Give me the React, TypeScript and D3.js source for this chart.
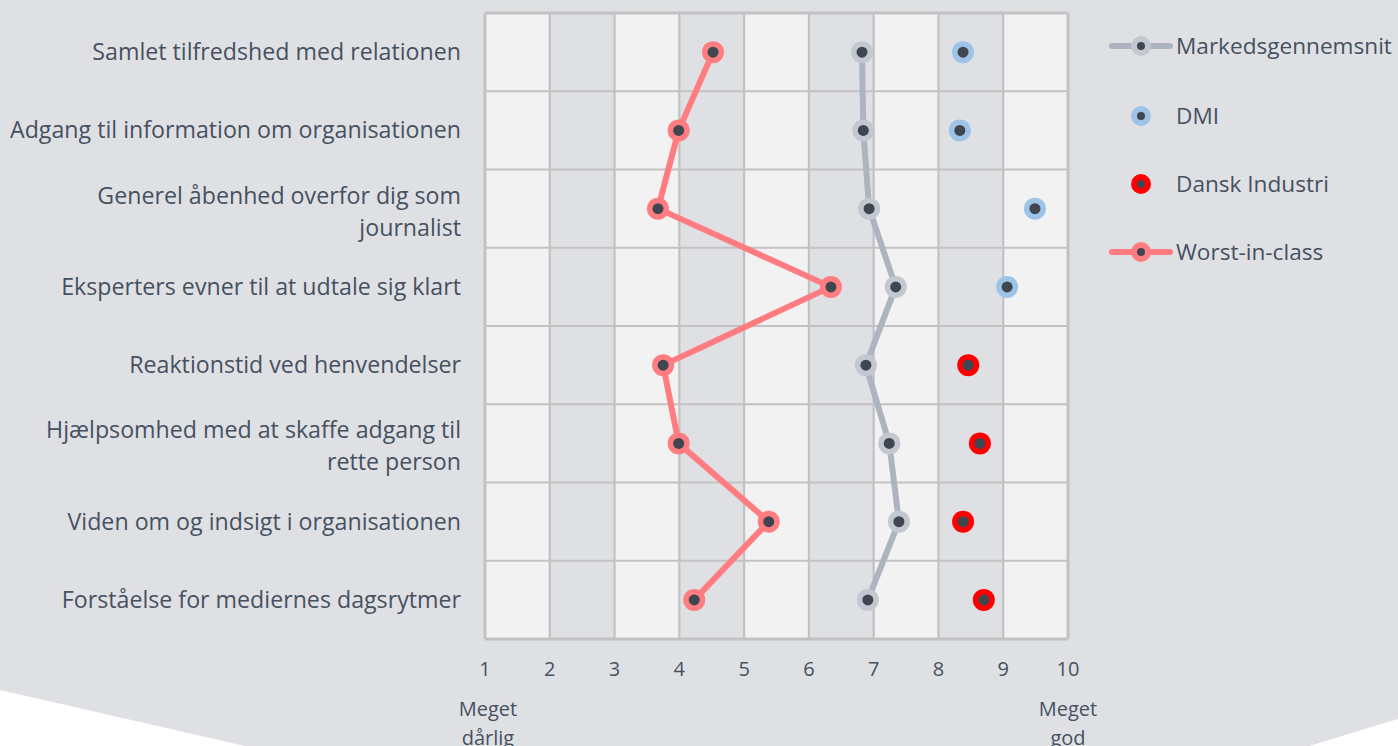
import React from "react";
import * as d3 from "d3";

const categories: string[][] = [
  ["Samlet tilfredshed med relationen"],
  ["Adgang til information om organisationen"],
  ["Generel åbenhed overfor dig som", "journalist"],
  ["Eksperters evner til at udtale sig klart"],
  ["Reaktionstid ved henvendelser"],
  ["Hjælpsomhed med at skaffe adgang til", "rette person"],
  ["Viden om og indsigt i organisationen"],
  ["Forståelse for mediernes dagsrytmer"],
];

const marked: number[] = [6.82, 6.84, 6.93, 7.34, 6.88, 7.24, 7.39, 6.91];
const worst: number[] = [4.52, 3.99, 3.67, 6.34, 3.75, 3.99, 5.38, 4.23];
const dmi: (number | null)[] = [8.38, 8.33, 9.49, 9.06, null, null, null, null];
const danskIndustri: (number | null)[] = [null, null, null, null, 8.46, 8.64, 8.38, 8.70];

const ticks: number[] = [1, 2, 3, 4, 5, 6, 7, 8, 9, 10];
const legendNames: string[] = ["Markedsgennemsnit", "DMI", "Dansk Industri", "Worst-in-class"];

const W = 1398;
const H = 746;
const BG = "#dfe0e4";
const LIGHT = "#f2f2f2";
const GRID = "#c2c2c2";
const TEXT = "#465160";
const DOT = "#3f4650";
const FONT = "'Open Sans', 'Noto Sans', sans-serif";

const C_MARK_LINE = "#adb4bf";
const C_MARK_RING = "#c3c8d0";
const C_DMI = "#9dc3e6";
const C_DI = "#ff0000";
const C_WORST = "#ff7c80";

export default function App() {
  const x = d3.scaleLinear().domain([1, 10]).range([485, 1068]);
  const y = d3
    .scaleBand<number>()
    .domain(d3.range(categories.length))
    .range([13, 639])
    .paddingInner(0)
    .paddingOuter(0);
  const cy = (i: number) => (y(i) as number) + y.bandwidth() / 2;

  const line = d3
    .line<number>()
    .x((d) => x(d))
    .y((_, i) => cy(i));

  const marker = (key: string, px: number, py: number, ring: string) => (
    <g key={key}>
      <circle cx={px} cy={py} r={11} fill={ring} />
      <circle cx={px} cy={py} r={5.5} fill={DOT} />
    </g>
  );

  const bgPath = `M0,0 L${W},0 L${W},719 L1309,${H} L245,${H} L0,690 Z`;

  const legendY = [46, 116, 184, 252];

  return (
    <svg
      width={W}
      height={H}
      style={{ position: "absolute", left: 0, top: 0, display: "block" }}
    >
      <rect x={0} y={0} width={W} height={H} fill="#ffffff" />
      <path d={bgPath} fill={BG} />

      {ticks.slice(0, -1).map((t, i) => (
        <rect
          key={"col" + t}
          x={x(t)}
          y={13}
          width={x(t + 1) - x(t)}
          height={626}
          fill={i % 2 === 0 ? LIGHT : BG}
        />
      ))}

      {ticks.map((t) => (
        <line
          key={"vg" + t}
          x1={x(t)}
          x2={x(t)}
          y1={13}
          y2={639}
          stroke={GRID}
          strokeWidth={t === 1 || t === 10 ? 3 : 2.2}
        />
      ))}
      {d3.range(categories.length + 1).map((i) => {
        const yy = i === categories.length ? 639 : (y(i) as number);
        return (
          <line
            key={"hg" + i}
            x1={485}
            x2={1068}
            y1={yy}
            y2={yy}
            stroke={GRID}
            strokeWidth={i === 0 || i === categories.length ? 3 : 2.2}
          />
        );
      })}

      {ticks.map((t) => (
        <text
          key={"tl" + t}
          x={x(t)}
          y={676}
          textAnchor="middle"
          fontFamily={FONT}
          fontSize={20}
          fill={TEXT}
        >
          {t}
        </text>
      ))}
      <text x={x(1) + 3} y={716} textAnchor="middle" fontFamily={FONT} fontSize={20} fill={TEXT}>
        Meget
      </text>
      <text x={x(1) + 3} y={745} textAnchor="middle" fontFamily={FONT} fontSize={20} fill={TEXT}>
        dårlig
      </text>
      <text x={x(10)} y={716} textAnchor="middle" fontFamily={FONT} fontSize={20} fill={TEXT}>
        Meget
      </text>
      <text x={x(10)} y={745} textAnchor="middle" fontFamily={FONT} fontSize={20} fill={TEXT}>
        god
      </text>

      {categories.map((lines, i) => {
        const lh = 32;
        const start = cy(i) + 8 - ((lines.length - 1) * lh) / 2 + (lines.length > 1 ? 3 : 0);
        return (
          <text key={"cat" + i} textAnchor="end" fontFamily={FONT} fontSize={23.2} fill={TEXT}>
            {lines.map((l, j) => (
              <tspan key={j} x={461} y={start + j * lh}>
                {l}
              </tspan>
            ))}
          </text>
        );
      })}

      <path
        d={line(marked) || ""}
        fill="none"
        stroke={C_MARK_LINE}
        strokeWidth={6}
        strokeLinejoin="round"
      />
      <path
        d={line(worst) || ""}
        fill="none"
        stroke={C_WORST}
        strokeWidth={6}
        strokeLinejoin="round"
      />

      {marked.map((v, i) => marker("m" + i, x(v), cy(i), C_MARK_RING))}
      {worst.map((v, i) => marker("w" + i, x(v), cy(i), C_WORST))}
      {dmi.map((v, i) => (v == null ? null : marker("d" + i, x(v), cy(i), C_DMI)))}
      {danskIndustri.map((v, i) => (v == null ? null : marker("di" + i, x(v), cy(i), C_DI)))}

      {legendNames.map((name, k) => {
        const ly = legendY[k];
        const hasLine = k === 0 || k === 3;
        const ringColor = [C_MARK_RING, C_DMI, C_DI, C_WORST][k];
        const lineColor = [C_MARK_LINE, null, null, C_WORST][k];
        return (
          <g key={"lg" + k}>
            {hasLine && (
              <line
                x1={1112}
                x2={1170}
                y1={ly}
                y2={ly}
                stroke={lineColor as string}
                strokeWidth={6}
                strokeLinecap="round"
              />
            )}
            <circle cx={1141} cy={ly} r={10} fill={ringColor} />
            <circle cx={1141} cy={ly} r={4} fill={DOT} />
            <text x={1176} y={ly + 8} fontFamily={FONT} fontSize={22.6} fill={TEXT}>
              {name}
            </text>
          </g>
        );
      })}
    </svg>
  );
}
